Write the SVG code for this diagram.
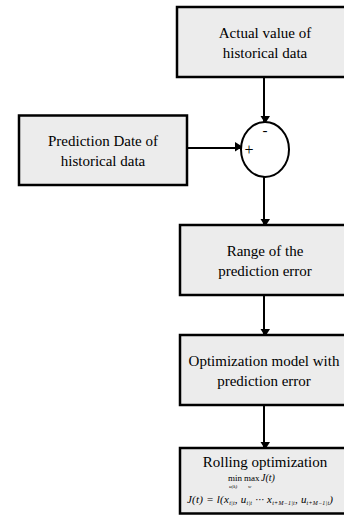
<svg xmlns="http://www.w3.org/2000/svg" width="344" height="515" viewBox="0 0 344 515">
<style>
.box{fill:#ececec;stroke:#000;stroke-width:2.5}
.t{font-size:15px;fill:#000;text-anchor:middle}
.m{fill:#000}
.i{font-style:italic}
.c{fill:none;stroke:#000;stroke-width:2}
</style>
<defs>
<marker id="ah" markerWidth="8" markerHeight="10" refX="8" refY="5" orient="auto" markerUnits="userSpaceOnUse" viewBox="0 0 10 8" preserveAspectRatio="none">
<path d="M0,0 L10,4 L0,8 Z" fill="#000"/>
</marker>
</defs>
<g id="connectors">
<line class="c" x1="264" y1="78" x2="264" y2="122" marker-end="url(#ah)"/>
<line class="c" x1="187" y1="148" x2="241" y2="148" marker-end="url(#ah)"/>
<line class="c" x1="264" y1="177" x2="264" y2="225" marker-end="url(#ah)"/>
<line class="c" x1="264" y1="296" x2="264" y2="335" marker-end="url(#ah)"/>
<line class="c" x1="264" y1="406" x2="264" y2="448" marker-end="url(#ah)"/>
</g>
<g font-family="'Liberation Serif', 'DejaVu Serif', serif">
<g id="actual">
<rect class="box" x="177" y="7" width="174" height="70"/>
<text class="t" x="265" y="38">Actual value of</text>
<text class="t" x="265" y="58">historical data</text>
</g>
<g id="prediction">
<rect class="box" x="19" y="115.5" width="168" height="69.5"/>
<text class="t" x="103" y="146">Prediction Date of</text>
<text class="t" x="103" y="166">historical data</text>
</g>
<g id="sum">
<ellipse cx="265" cy="149.5" rx="24" ry="27.5" fill="#fff" stroke="#000" stroke-width="2"/>
<text class="m" x="265" y="135" font-size="15" text-anchor="middle">-</text>
<text class="m" x="249" y="155" font-size="16" text-anchor="middle">+</text>
</g>
<g id="range">
<rect class="box" x="180" y="225" width="171" height="70"/>
<text class="t" x="265" y="256">Range of the</text>
<text class="t" x="265" y="276">prediction error</text>
</g>
<g id="optmodel">
<rect class="box" x="180" y="335" width="171" height="70"/>
<text class="t" x="264" y="366">Optimization model with</text>
<text class="t" x="264" y="386">prediction error</text>
</g>
<g id="rolling">
<rect class="box" x="180" y="448" width="171" height="65.5"/>
<text class="t" x="265" y="467">Rolling optimization</text>
<text class="m" x="228" y="481" font-size="9">min</text>
<text class="m i" x="229" y="488" font-size="5">u(k)</text>
<text class="m" x="244" y="481" font-size="9">max</text>
<text class="m i" x="248" y="488" font-size="5">w</text>
<text class="m i" x="261" y="481" font-size="10">J(t)</text>
<text class="m i" x="187" y="503" font-size="11" textLength="146" lengthAdjust="spacing">J(t) = l(x<tspan font-size="6" dy="2">t|t</tspan><tspan dy="-2">, u</tspan><tspan font-size="6" dy="2">t|t</tspan><tspan dy="-2"> ··· x</tspan><tspan font-size="6" dy="2">t+M−1|t</tspan><tspan dy="-2">, u</tspan><tspan font-size="6" dy="2">t+M−1|t</tspan><tspan dy="-2">)</tspan></text>
</g>
</g>
</svg>
